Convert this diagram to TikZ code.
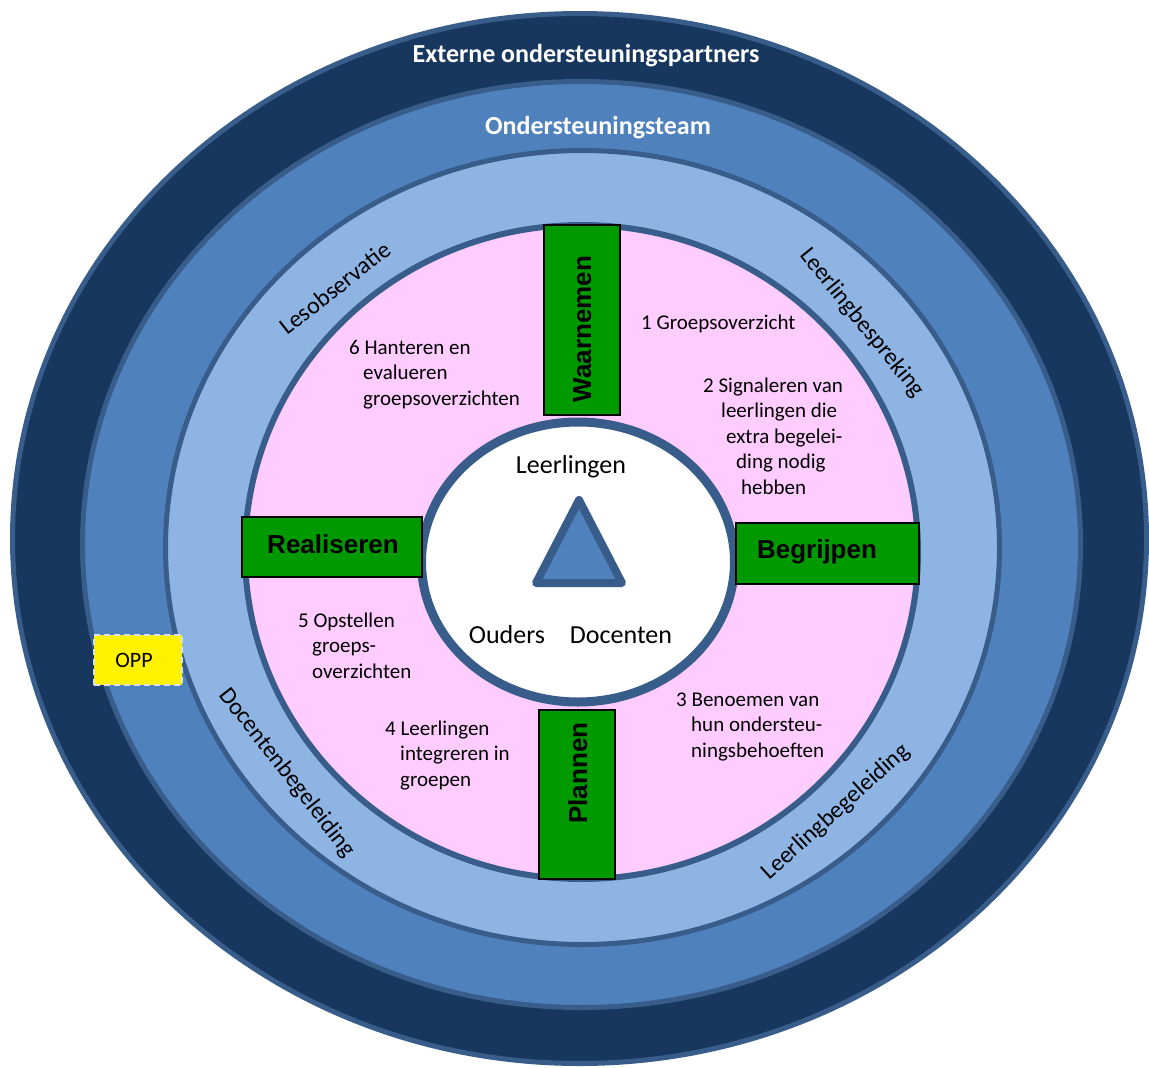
\documentclass[tikz,border=0pt]{standalone}
\usepackage{fontspec}
\setmainfont{Carlito}
\newfontfamily\arialfont{Liberation Sans}
\definecolor{navy}{RGB}{23,55,94}
\definecolor{rimblue}{RGB}{56,93,138}
\definecolor{midblue}{RGB}{79,129,189}
\definecolor{lightblue}{RGB}{142,180,227}
\definecolor{pinkfill}{RGB}{255,204,255}
\definecolor{boxgreen}{RGB}{0,153,0}
\definecolor{oppborder}{RGB}{215,225,236}
\begin{document}
\begin{tikzpicture}[x=1pt,y=-1pt,
  ring/.style={draw=rimblue,line width=5pt},
  gbox/.style={draw=black,line width=2.2pt,fill=boxgreen,inner sep=0pt},
  glabel/.style={font=\arialfont\bfseries\fontsize{26}{30}\selectfont,inner sep=0pt},
  body/.style={font=\fontsize{21}{25.5}\selectfont,align=left,inner sep=0pt,anchor=base west},
  arclabel/.style={font=\fontsize{24}{28}\selectfont,inner sep=0pt},
  title/.style={font=\bfseries\fontsize{26}{30}\selectfont,text=white,inner sep=0pt},
  center/.style={font=\fontsize{26}{30}\selectfont,inner sep=0pt}]
\useasboundingbox (0,0) rectangle (1149,1068);
% rings
\draw[ring,fill=navy] (579.5,538.5) ellipse [x radius=567pt,y radius=525pt];
\draw[ring,fill=midblue] (581.5,544.5) ellipse [x radius=499pt,y radius=463pt];
\draw[ring,fill=lightblue] (582.5,547.5) ellipse [x radius=417pt,y radius=397pt];
\draw[draw=rimblue,line width=6pt,fill=pinkfill] (581.5,552) ellipse [x radius=336.5pt,y radius=327pt];
\draw[draw=rimblue,line width=9pt,fill=white] (578,562) ellipse [x radius=156.5pt,y radius=140pt];
% triangle
\draw[draw=rimblue,line width=8pt,line join=round,fill=midblue] (579,500) -- (536,583) -- (622,583) -- cycle;
% green boxes
\node[gbox,minimum width=76pt,minimum height=190pt] (boxW) at (582,320) {};
\node[gbox,minimum width=180pt,minimum height=60pt] (boxR) at (332,547) {};
\node[gbox,minimum width=183pt,minimum height=61pt] (boxB) at (827.5,553.5) {};
\node[gbox,minimum width=76pt,minimum height=169pt] (boxP) at (577,794.5) {};
\node[glabel,rotate=90,anchor=base] (tW) at (591,329) {Waarnemen};
\node[glabel,anchor=base] (tR) at (333,553) {Realiseren};
\node[glabel,anchor=base] (tB) at (817,558) {Begrijpen};
\node[glabel,rotate=90,anchor=base] (tP) at (587,773) {Plannen};
% titles
\node[title] (ext) at (586,56) {Externe ondersteuningspartners};
\node[title] (ost) at (598,128) {Ondersteuningsteam};
% arc labels
\node[arclabel,rotate=38] (les) at (335,288) {Lesobservatie};
\node[arclabel,rotate=-51] (lbs) at (862,323) {Leerlingbespreking};
\node[arclabel,rotate=-52] (dcb) at (287,773) {Docentenbegeleiding};
\node[arclabel,rotate=42] (llb) at (836,812) {Leerlingbegeleiding};
% centre
\node[center] (leer) at (571,467) {Leerlingen};
\node[center] (oud) at (507,635) {Ouders};
\node[center] (doc) at (621,635) {Docenten};
% steps (anchor = baseline of last line)
\node[body] (s1) at (641,329) {1 Groepsoverzicht};
\node[body] (s2) at (703,494) {2 Signaleren van\\\hspace*{18pt}leerlingen die\\\hspace*{23pt}extra begelei-\\\hspace*{33pt}ding nodig\\\hspace*{38pt}hebben};
\node[body] (s3) at (676,757) {3 Benoemen van\\\hspace*{15pt}hun ondersteu-\\\hspace*{15pt}ningsbehoeften};
\node[body] (s4) at (385,786) {4 Leerlingen\\\hspace*{15pt}integreren in\\\hspace*{15pt}groepen};
\node[body] (s5) at (298,678) {5 Opstellen\\\hspace*{14pt}groeps-\\\hspace*{14pt}overzichten};
\node[body] (s6) at (349,405) {6 Hanteren en\\\hspace*{14pt}evalueren\\\hspace*{14pt}groepsoverzichten};
% OPP
\node[draw=oppborder,line width=2pt,dash pattern=on 6pt off 4pt,fill=yellow,minimum width=88pt,minimum height=50pt,inner sep=0pt,font=\fontsize{22}{26}\selectfont] (opp) at (138,660) {OPP\hspace*{8pt}};
\end{tikzpicture}
\end{document}
